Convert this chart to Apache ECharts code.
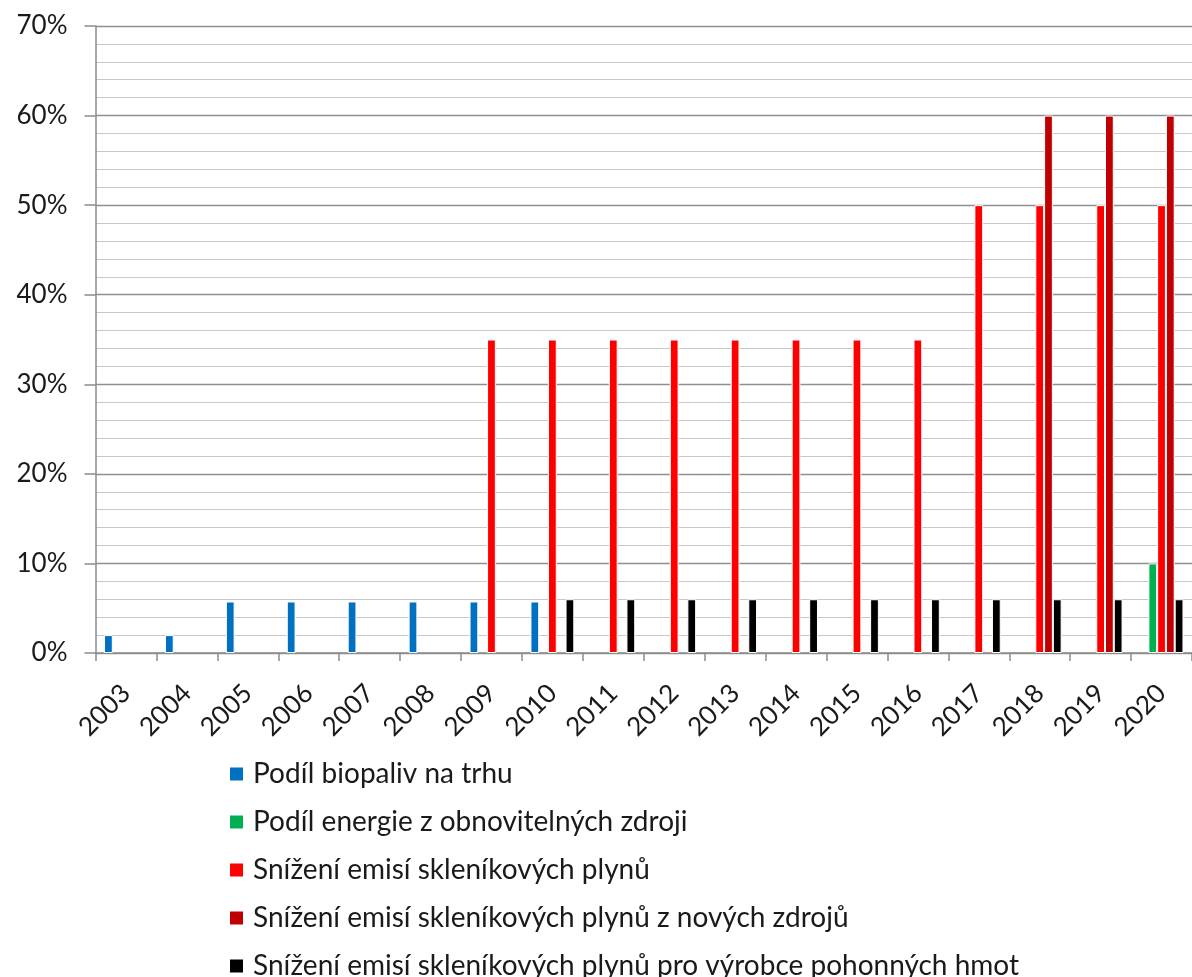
<!DOCTYPE html>
<html>
<head>
<meta charset="utf-8">
<script src="https://cdn.jsdelivr.net/npm/echarts@6/dist/echarts.min.js"></script>
<style>
html,body{margin:0;padding:0;background:#fff;overflow:hidden;}
#chart{width:1192px;height:977px;}
</style>
</head>
<body>
<div id="chart"></div>
<script>
const years = ['2003','2004','2005','2006','2007','2008','2009','2010','2011','2012','2013','2014','2015','2016','2017','2018','2019','2020'];
const seriesNames = [
  'Podíl biopaliv na trhu',
  'Podíl energie z obnovitelných zdroji',
  'Snížení emisí skleníkových plynů',
  'Snížení emisí skleníkových plynů z nových zdrojů',
  'Snížení emisí skleníkových plynů pro výrobce pohonných hmot'
];
const biofuelShare = [2, 2, 5.75, 5.75, 5.75, 5.75, 5.75, 5.75, null, null, null, null, null, null, null, null, null, null];
const renewableShare = [null, null, null, null, null, null, null, null, null, null, null, null, null, null, null, null, null, 10];
const ghgReduction = [null, null, null, null, null, null, 35, 35, 35, 35, 35, 35, 35, 35, 50, 50, 50, 50];
const ghgReductionNew = [null, null, null, null, null, null, null, null, null, null, null, null, null, null, null, 60, 60, 60];
const ghgReductionFuel = [null, null, null, null, null, null, null, 6, 6, 6, 6, 6, 6, 6, 6, 6, 6, 6];
const colors = ['#0070C0', '#00B050', '#FF0000', '#C00000', '#000000'];
const allData = [biofuelShare, renewableShare, ghgReduction, ghgReductionNew, ghgReductionFuel];

const FONT = 'Lato';
const chart = echarts.init(document.getElementById('chart'));
chart.setOption({
  animation: false,
  backgroundColor: '#fff',
  grid: { left: 95.5, right: -10, top: 26, bottom: 324, containLabel: false },
  legend: {
    orient: 'vertical',
    left: 223,
    top: 754,
    height: 400,
    itemWidth: 15,
    itemHeight: 15,
    itemGap: 18,
    icon: 'rect',
    textStyle: { fontFamily: FONT, fontSize: 28, color: '#1a1a1a', lineHeight: 30, padding: [0, 0, 0, 4] },
    data: seriesNames
  },
  xAxis: {
    type: 'category',
    data: years,
    boundaryGap: true,
    axisLine: { lineStyle: { color: '#8c8c8c', width: 1.5 } },
    axisTick: { show: true, length: 8, alignWithLabel: false, lineStyle: { color: '#8c8c8c', width: 1.5 } },
    axisLabel: { rotate: 45, margin: 36, fontFamily: FONT, fontSize: 26, color: '#1a1a1a', interval: 0 },
    splitLine: { show: false }
  },
  yAxis: {
    type: 'value',
    min: 0,
    max: 70,
    interval: 10,
    axisLine: { show: true, lineStyle: { color: '#8c8c8c', width: 1.5 } },
    axisTick: { show: true, length: 11, lineStyle: { color: '#8c8c8c', width: 1.5 } },
    axisLabel: { margin: 28, fontFamily: FONT, fontSize: 26, color: '#1a1a1a', formatter: '{value}%' },
    splitLine: { show: true, lineStyle: { color: '#8f8f8f', width: 1.3 } },
    minorTick: { show: false, splitNumber: 5 },
    minorSplitLine: { show: true, lineStyle: { color: '#c8c8c8', width: 1.2 } }
  },
  series: seriesNames.map((name, i) => ({
    name: name,
    type: 'bar',
    data: allData[i],
    barGap: '0%',
    barCategoryGap: '28%',
    itemStyle: { color: colors[i], borderColor: '#ffffff', borderWidth: 1 }
  }))
});
</script>
</body>
</html>
